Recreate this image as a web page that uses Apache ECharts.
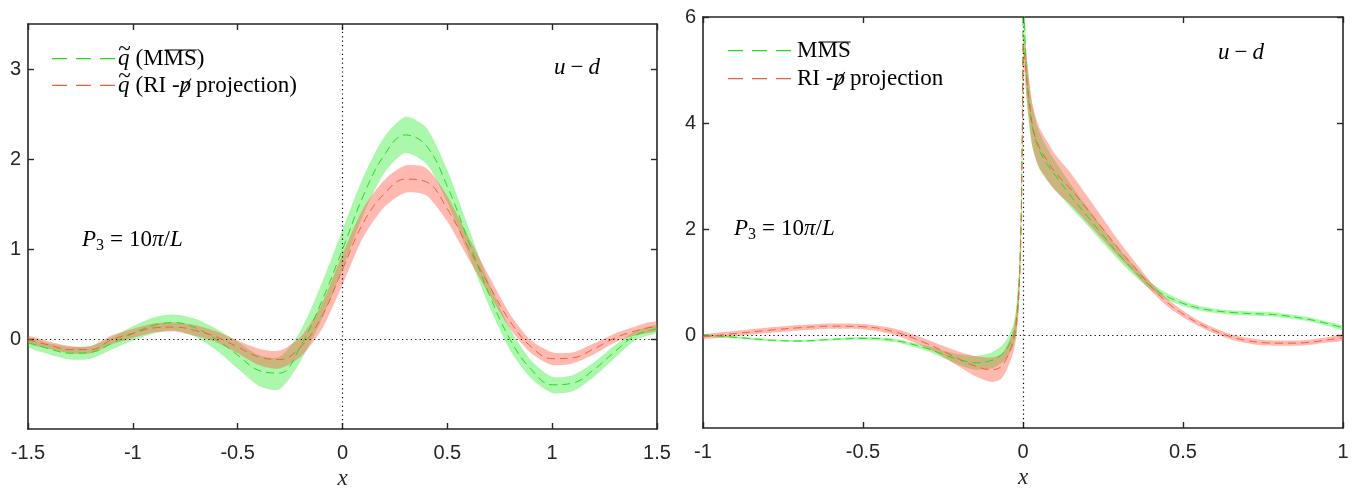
<!DOCTYPE html>
<html><head><meta charset="utf-8">
<script src="https://cdn.jsdelivr.net/npm/echarts@6/dist/echarts.min.js"></script>
<style>html,body{margin:0;padding:0;background:#fff}#c{width:1364px;height:491px}</style>
</head><body><div id="c"></div>
<script>
// ---------- data: left panel (quasi-PDF, x in [-1.5,1.5]) ----------
const leftX = [-1.5,-1.4,-1.3,-1.2,-1.1,-1.0,-0.9,-0.8,-0.7,-0.6,-0.5,-0.4,-0.3,-0.2,-0.1,0,0.1,0.2,0.3,0.4,0.5,0.6,0.7,0.8,0.9,1.0,1.1,1.2,1.3,1.4,1.5];
const leftMsbar    = [-0.03,-0.10,-0.15,-0.14,-0.04,0.07,0.16,0.19,0.13,0.00,-0.17,-0.34,-0.37,-0.07,0.42,1.00,1.60,2.05,2.27,2.15,1.70,1.10,0.50,0.00,-0.33,-0.50,-0.48,-0.33,-0.13,0.05,0.12];
const leftMsbarErr = [0.05,0.06,0.07,0.07,0.07,0.08,0.09,0.09,0.10,0.12,0.15,0.17,0.18,0.17,0.20,0.22,0.21,0.20,0.20,0.20,0.18,0.15,0.13,0.12,0.10,0.09,0.09,0.08,0.07,0.05,0.04];
const leftRI       = [0.00,-0.06,-0.11,-0.11,0.00,0.07,0.13,0.14,0.10,0.03,-0.08,-0.19,-0.22,-0.08,0.25,0.78,1.30,1.62,1.78,1.75,1.45,1.02,0.60,0.20,-0.08,-0.21,-0.20,-0.10,0.02,0.10,0.15];
const leftRIErr    = [0.04,0.04,0.04,0.04,0.05,0.05,0.05,0.05,0.06,0.06,0.07,0.09,0.10,0.11,0.14,0.17,0.16,0.15,0.15,0.15,0.14,0.12,0.10,0.08,0.07,0.07,0.06,0.06,0.05,0.05,0.05];

// ---------- data: right panel (x in [-1,1]) ----------
const rightX = [-1,-0.9,-0.8,-0.7,-0.6,-0.5,-0.4,-0.3,-0.25,-0.2,-0.15,-0.1,-0.07,-0.05,-0.03,-0.02,-0.012,-0.006,-0.002,0.002,0.006,0.012,0.02,0.03,0.05,0.08,0.1,0.15,0.2,0.25,0.3,0.35,0.4,0.45,0.5,0.55,0.6,0.65,0.7,0.75,0.8,0.85,0.9,0.95,1.0];
const rightMsbar    = [0.00,-0.04,-0.09,-0.11,-0.08,-0.06,-0.10,-0.25,-0.36,-0.46,-0.52,-0.48,-0.38,-0.25,0.00,0.35,1.00,2.20,4.00,6.60,5.60,4.85,4.30,3.90,3.50,3.18,3.02,2.62,2.25,1.88,1.52,1.20,0.92,0.73,0.60,0.51,0.46,0.43,0.41,0.40,0.38,0.34,0.29,0.22,0.14];
const rightMsbarErr = [0.02,0.02,0.02,0.02,0.02,0.025,0.03,0.05,0.07,0.10,0.13,0.15,0.16,0.18,0.20,0.25,0.30,0.30,0.30,0.30,0.35,0.40,0.40,0.38,0.35,0.30,0.27,0.22,0.17,0.14,0.11,0.09,0.07,0.06,0.05,0.045,0.04,0.04,0.04,0.04,0.04,0.04,0.04,0.04,0.04];
const rightRI       = [-0.03,0.03,0.09,0.14,0.17,0.16,0.06,-0.16,-0.30,-0.45,-0.58,-0.65,-0.60,-0.42,-0.10,0.25,0.90,2.00,3.80,5.45,5.20,4.80,4.40,3.95,3.55,3.25,3.07,2.75,2.38,2.00,1.62,1.27,0.92,0.62,0.40,0.22,0.08,-0.03,-0.10,-0.14,-0.15,-0.15,-0.13,-0.09,-0.05];
const rightRIErr    = [0.04,0.05,0.05,0.05,0.05,0.05,0.06,0.08,0.10,0.14,0.19,0.23,0.23,0.22,0.22,0.25,0.30,0.30,0.30,0.30,0.35,0.40,0.40,0.40,0.38,0.36,0.34,0.30,0.25,0.20,0.15,0.11,0.08,0.07,0.06,0.05,0.05,0.05,0.05,0.05,0.05,0.05,0.05,0.05,0.05];

// ---------- ticks ----------
const leftXTicks  = [-1.5,-1,-0.5,0,0.5,1,1.5];
const leftYTicks  = [0,1,2,3];
const rightXTicks = [-1,-0.5,0,0.5,1];
const rightYTicks = [0,2,4,6];

const GREEN = '#22dd22', RED = '#f0603e';
const GREEN_BAND = 'rgba(0,230,0,0.33)', RED_BAND = 'rgba(255,80,60,0.40)';
const AX = '#262626';

const chart = echarts.init(document.getElementById('c'), null, {renderer: 'canvas'});

// error band: polygon through the axis scales (api.coord)
function band(ai, xs, ys, es, color) {
  return {
    type: 'custom', xAxisIndex: ai, yAxisIndex: ai, silent: true, z: 1, clip: true,
    data: xs.map((x, i) => [x, ys[i] - es[i], ys[i] + es[i]]),
    encode: {x: 0, y: [1, 2]},
    renderItem: function (params, api) {
      if (params.dataIndex !== 0) return null;
      const up = [], lo = [];
      for (let i = 0; i < xs.length; i++) {
        up.push(api.coord([xs[i], ys[i] + es[i]]));
        lo.push(api.coord([xs[i], ys[i] - es[i]]));
      }
      const pts = up.concat(lo.reverse());
      const cs = params.coordSys;
      return {
        type: 'group',
        clipPath: {type: 'rect', shape: {x: cs.x, y: cs.y, width: cs.width, height: cs.height}},
        children: [{type: 'polygon', shape: {points: pts, smooth: 0.25}, style: {fill: color, stroke: null}}]
      };
    }
  };
}
function center(ai, xs, ys, color) {
  return {type: 'line', xAxisIndex: ai, yAxisIndex: ai, symbol: 'none', smooth: 0.4,
    lineStyle: {color: color, width: 1, type: [8, 5]}, silent: true, z: 5, data: xs.map((x, i) => [x, ys[i]])};
}
function zeroLines(ai) {
  return {type: 'line', xAxisIndex: ai, yAxisIndex: ai, symbol: 'none', data: [], silent: true, z: 4,
    markLine: {symbol: 'none', silent: true, label: {show: false}, animation: false,
      lineStyle: {color: '#000', width: 1.2, type: [1.2, 3.2]},
      data: [{yAxis: 0}, {xAxis: 0}]}};
}

function xAxes(gi, min, max, ticks) {
  const base = {type: 'value', gridIndex: gi, min: min, max: max, interval: 0.5,
    axisLine: {show: true, onZero: false, lineStyle: {color: AX, width: 1.6}},
    axisTick: {show: true, inside: true, length: 6, lineStyle: {color: AX, width: 1.4}, customValues: ticks},
    splitLine: {show: false}};
  return [
    Object.assign({}, base, {position: 'bottom',
      axisLabel: {show: true, customValues: ticks, color: AX, fontSize: 20, fontFamily: 'Liberation Sans, Arial, sans-serif', margin: 14,
        formatter: v => String(Math.round(v * 10) / 10)},
      name: 'x', nameLocation: 'middle', nameGap: 33,
      nameTextStyle: {fontFamily: 'Liberation Serif, serif', fontStyle: 'italic', fontSize: 23, color: AX}}),
    Object.assign({}, base, {position: 'top', axisLabel: {show: false}})
  ];
}
function yAxes(gi, min, max, ticks) {
  const base = {type: 'value', gridIndex: gi, min: min, max: max,
    axisLine: {show: true, onZero: false, lineStyle: {color: AX, width: 1.6}},
    axisTick: {show: true, inside: true, length: 6, lineStyle: {color: AX, width: 1.4}, customValues: ticks},
    splitLine: {show: false}};
  return [
    Object.assign({}, base, {position: 'left',
      axisLabel: {show: true, customValues: ticks, color: AX, fontSize: 20, fontFamily: 'Liberation Sans, Arial, sans-serif', margin: 7}}),
    Object.assign({}, base, {position: 'right', axisLabel: {show: false}})
  ];
}

// ---------- text layout helpers (decorations only) ----------
const mctx = document.createElement('canvas').getContext('2d');
function tw(t, font) { mctx.font = font; return mctx.measureText(t).width; }
function layout(pieces, x0, yc) {
  let x = x0; const els = [];
  for (const p of pieces) {
    const w = tw(p.t, p.font);
    els.push({type: 'text', x: x, y: yc + (p.dy || 0), silent: true, z: 20,
      style: {text: p.t, font: p.font, fill: '#000', verticalAlign: 'middle', align: 'left'}});
    if (p.over) els.push({type: 'line', silent: true, z: 20, shape: {x1: x + 1, y1: yc - p.over, x2: x + w, y2: yc - p.over}, style: {stroke: '#000', lineWidth: 1}});
    if (p.slash) els.push({type: 'line', silent: true, z: 20, shape: {x1: x + w * 1.0, y1: yc - 7, x2: x + w * 0.05, y2: yc + 10}, style: {stroke: '#000', lineWidth: 1.1}});
    if (p.tilde) els.push({type: 'text', x: x + w * 0.55, y: yc - 9, silent: true, z: 20,
      style: {text: '~', font: p.font, fill: '#000', verticalAlign: 'middle', align: 'center'}});
    x += w + (p.gap || 0);
  }
  return els;
}
const SF = '23px "Liberation Serif", serif';
const SI = 'italic 23px "Liberation Serif", serif';
const SS = '16px "Liberation Serif", serif';

function legendLine(x1, x2, y, color) {
  return {type: 'line', silent: true, z: 20, shape: {x1: x1, y1: y, x2: x2, y2: y}, style: {stroke: color, lineWidth: 1.3, lineDash: [15, 9]}};
}

let graphics = [];
graphics.push(legendLine(52, 115, 58.7, GREEN), legendLine(52, 115, 85.3, RED));
graphics = graphics.concat(layout([{t: 'q', font: SI, tilde: true, gap: 6}, {t: '(M', font: SF}, {t: 'MS', font: SF, over: 9}, {t: ')', font: SF}], 118, 59));
graphics = graphics.concat(layout([{t: 'q', font: SI, tilde: true, gap: 6}, {t: '(RI -', font: SF}, {t: 'p', font: SI, slash: true, gap: 5}, {t: 'projection)', font: SF}], 118, 85.5));
graphics.push(legendLine(728, 792, 50.7, GREEN), legendLine(728, 792, 78.7, RED));
graphics = graphics.concat(layout([{t: 'M', font: SF}, {t: 'MS', font: SF, over: 9}], 797, 51));
graphics = graphics.concat(layout([{t: 'RI -', font: SF}, {t: 'p', font: SI, slash: true, gap: 5}, {t: 'projection', font: SF}], 797, 79));
graphics = graphics.concat(layout([{t: 'u', font: SI, gap: 5}, {t: '\u2212', font: SF, gap: 5}, {t: 'd', font: SI}], 554, 68));
graphics = graphics.concat(layout([{t: 'u', font: SI, gap: 5}, {t: '\u2212', font: SF, gap: 5}, {t: 'd', font: SI}], 1218, 53));
function p3(x, y) {
  return layout([{t: 'P', font: SI}, {t: '3', font: SS, dy: 6, gap: 6}, {t: '=', font: SF, gap: 6}, {t: '10', font: SF}, {t: '\u03c0', font: SI}, {t: '/', font: SF}, {t: 'L', font: SI}], x, y);
}
graphics = graphics.concat(p3(82, 240), p3(734, 229));

const option = {
  animation: false,
  backgroundColor: '#fff',
  grid: [
    {left: 28, top: 24, width: 629, height: 405, containLabel: false, outerBoundsMode: 'none'},
    {left: 703, top: 17, width: 640, height: 411, containLabel: false, outerBoundsMode: 'none'}
  ],
  xAxis: xAxes(0, -1.5, 1.5, leftXTicks).concat(xAxes(1, -1, 1, rightXTicks)),
  yAxis: yAxes(0, -0.99, 3.5, leftYTicks).concat(yAxes(1, -1.75, 6, rightYTicks)),
  series: [
    zeroLines(0),
    band(0, leftX, leftMsbar, leftMsbarErr, GREEN_BAND),
    band(0, leftX, leftRI, leftRIErr, RED_BAND),
    center(0, leftX, leftMsbar, GREEN), center(0, leftX, leftRI, RED),
    zeroLines(2),
    band(2, rightX, rightMsbar, rightMsbarErr, GREEN_BAND),
    band(2, rightX, rightRI, rightRIErr, RED_BAND),
    center(2, rightX, rightMsbar, GREEN), center(2, rightX, rightRI, RED)
  ],
  graphic: graphics
};
chart.setOption(option);
</script></body></html>
